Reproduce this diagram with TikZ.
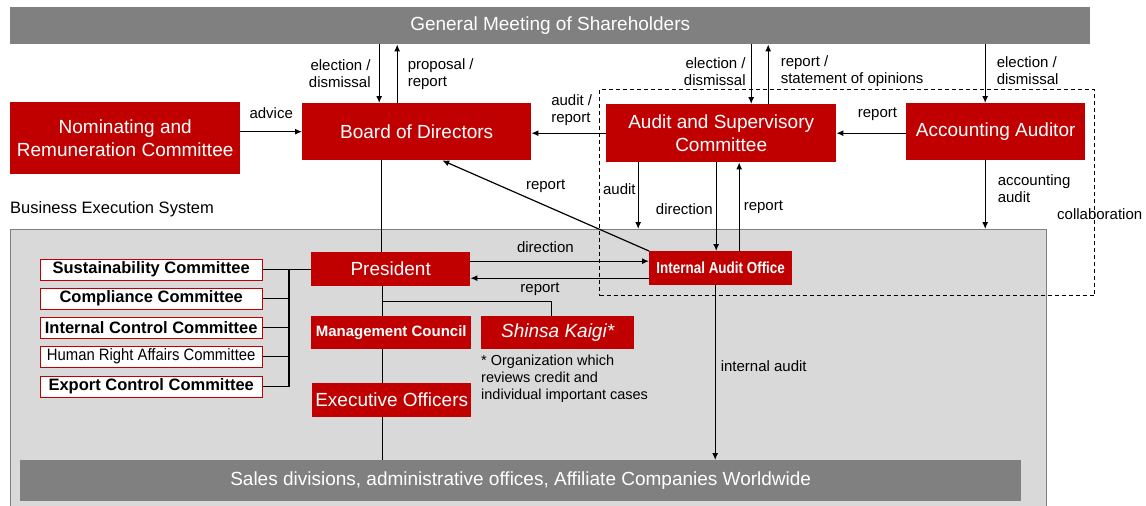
\documentclass[tikz,border=0pt]{standalone}
\usepackage{fontspec}
\setmainfont{Liberation Sans}
\newfontfamily\narrowfont[FakeStretch=0.9]{Liberation Sans}
\newfontfamily\officefont[FakeStretch=0.84]{Liberation Sans}
\usetikzlibrary{arrows.meta,positioning,backgrounds}
\definecolor{BoardRed}{RGB}{192,0,0}
\definecolor{BarGray}{RGB}{128,128,128}
\definecolor{AreaGray}{RGB}{217,217,217}

\begin{document}
\begin{tikzpicture}[x=1pt, y=-1pt,
    redbox/.style={fill=BoardRed, text=white, anchor=north west, inner sep=0pt,
        align=center, font=\fontsize{19}{22.5}\selectfont},
    graybar/.style={fill=BarGray, text=white, anchor=north west, inner sep=0pt,
        font=\fontsize{19}{22}\selectfont},
    committee/.style={draw=BoardRed, line width=1.2pt, fill=white, anchor=north west,
        inner sep=0pt, minimum width=222pt, minimum height=21pt,
        font=\fontsize{16.5}{18}\selectfont\bfseries},
    lbl/.style={font=\fontsize{15}{17}\selectfont, inner sep=0pt},
    link/.style={line width=1.2pt},
    arr/.style={link, -{Latex[length=7pt,width=6pt]}}]

    \useasboundingbox (0,0) rectangle (1146,506);

    \begin{scope}[on background layer]
        \node[fill=AreaGray, draw=BarGray, line width=1pt, anchor=north west, inner sep=0pt,
            minimum width=1036pt, minimum height=290pt] (BES) at (10,229) {};
    \end{scope}

    \node[graybar, minimum width=1080pt, minimum height=37pt] (GMS) at (10,7)
        {General Meeting of Shareholders};
    \node[redbox, minimum width=230pt, minimum height=72pt] (Nominating) at (10,102)
        {Nominating and\\Remuneration Committee};
    \node[redbox, minimum width=229pt, minimum height=57pt] (Board) at (302,103)
        {Board of Directors};
    \node[redbox, minimum width=230pt, minimum height=58pt] (ASC) at (606,104)
        {Audit and Supervisory\\Committee};
    \node[redbox, minimum width=179pt, minimum height=57pt] (AccAuditor) at (906,103)
        {Accounting Auditor};

    \node[draw, dashed, dash pattern=on 4pt off 3pt, line width=1pt, anchor=north west,
        inner sep=0pt, minimum width=495pt, minimum height=206pt] (Collab) at (599,89) {};
    \node[lbl, anchor=west] (CollabLabel) at (1057,214) {collaboration};

    \node[lbl, anchor=west, font=\fontsize{16.5}{18}\selectfont] (BESLabel) at (10,209)
        {Business Execution System};

    \node[redbox, minimum width=159pt, minimum height=34pt] (President) at (311,252)
        {President};
    \node[redbox, minimum width=143pt, minimum height=34pt,
        font=\fontsize{16}{18}\officefont\bfseries] (IAO) at (649,251) {Internal Audit Office};
    \node[redbox, minimum width=160pt, minimum height=33pt,
        font=\fontsize{15}{18}\selectfont\bfseries] (Management) at (311,316) {Management Council};
    \node[redbox, minimum width=153pt, minimum height=33pt,
        font=\fontsize{19}{22}\selectfont\itshape] (Shinsa) at (481,316) {Shinsa Kaigi*};
    \node[redbox, minimum width=159pt, minimum height=34pt] (Executive) at (312,383)
        {Executive Officers};
    \node[lbl, anchor=north west, align=left, font=\fontsize{14.5}{17}\selectfont] (Note)
        at (481,355) {* Organization which\\reviews credit and\\individual important cases};

    \node[committee] (Sustainability) at (39.6,258.6) {Sustainability Committee};
    \node[committee] (Compliance) at (39.6,287.6) {Compliance Committee};
    \node[committee] (InternalControl) at (39.6,316.6) {Internal Control Committee};
    \node[committee, font=\fontsize{16.5}{18}\narrowfont] (HumanRights) at (39.6,345.6)
        {Human Right Affairs Committee};
    \node[committee] (ExportControl) at (39.6,375.6) {Export Control Committee};
    \coordinate (Bus) at (289,272);

    \node[graybar, minimum width=1001pt, minimum height=41pt] (Sales) at (20,460)
        {Sales divisions, administrative offices, Affiliate Companies Worldwide};

    \draw[arr] ([xshift=-37.5pt]GMS.south -| Board.north) -- ([xshift=-37.5pt]Board.north)
        node[lbl, midway, left=8pt, align=right] {election /\\dismissal};
    \draw[arr] ([xshift=-19.5pt]Board.north) -- ([xshift=-19.5pt]GMS.south -| Board.north)
        node[lbl, midway, right=10pt, align=left] {proposal /\\report};
    \draw[arr] ([xshift=30pt]GMS.south -| ASC.north) -- ([xshift=30pt]ASC.north)
        node[lbl, pos=0.45, left=5pt, align=right] {election /\\dismissal};
    \draw[arr] ([xshift=47pt]ASC.north) -- ([xshift=47pt]GMS.south -| ASC.north)
        node[lbl, pos=0.55, right=12pt, align=left] {report /\\statement of opinions};
    \draw[arr] ([xshift=-10.5pt]GMS.south -| AccAuditor.north) -- ([xshift=-10.5pt]AccAuditor.north)
        node[lbl, pos=0.45, right=11pt, align=left] {election /\\dismissal};

    \draw[arr] (Nominating.east |- Board.west) -- (Board.west)
        node[lbl, midway, above=12pt] {advice};
    \draw[arr] (ASC.west) -- (Board.east |- ASC.west)
        node[lbl, pos=0.46, above=7pt, align=left] {audit /\\report};
    \draw[arr] (AccAuditor.west |- ASC.east) -- (ASC.east)
        node[lbl, pos=0.41, above=12pt] {report};
    \draw[arr] (IAO.north west) -- ([xshift=25.5pt]Board.south)
        node[lbl, midway, above=12pt] {report};

    \draw[link] ([xshift=-35.5pt]Board.south) -- ([xshift=-35.5pt]Board.south |- President.north);
    \draw[arr] ([yshift=8pt]President.east) -- ([yshift=8pt]President.east -| IAO.west)
        node[lbl, pos=0.42, above=8pt] {direction};
    \draw[arr] ([yshift=-9pt]President.east -| IAO.west) -- ([yshift=-9pt]President.east)
        node[lbl, pos=0.61, below=4pt] {report};

    \draw[link] ([xshift=-8.5pt]President.south) -- ([xshift=-8.5pt]President.south |- Management.north);
    \draw[link] ([xshift=-8.5pt,yshift=-15pt]President.south) -| ([xshift=-6.5pt]Shinsa.north);
    \draw[link] ([xshift=-9pt]Management.south) -- ([xshift=-9pt]Management.south |- Executive.north);
    \draw[link] ([xshift=-9.5pt]Executive.south) -- ([xshift=-9.5pt]Executive.south |- Sales.north);

    \foreach \c in {Sustainability, Compliance, InternalControl, HumanRights, ExportControl}
        \draw[link] (\c.east) -- (\c.east -| Bus);
    \draw[link] (Sustainability.east -| Bus) -- (ExportControl.east -| Bus);
    \draw[link] (Sustainability.east -| Bus) -- (President.west |- Sustainability.east);

    \draw[arr] ([xshift=-83pt]ASC.south) -- ([xshift=-83pt]ASC.south |- BES.north)
        node[lbl, pos=0.4, left=2pt] {audit};
    \draw[arr] ([xshift=-5pt]ASC.south) -- ([xshift=-5pt]ASC.south |- IAO.north)
        node[lbl, pos=0.53, left=3pt] {direction};
    \draw[arr] ([xshift=18pt]ASC.south |- IAO.north) -- ([xshift=18pt]ASC.south)
        node[lbl, pos=0.49, right=4pt] {report};
    \draw[arr] ([xshift=-10.5pt]AccAuditor.south) -- ([xshift=-10.5pt]AccAuditor.south |- BES.north)
        node[lbl, pos=0.41, right=12pt, align=left] {accounting\\audit};
    \draw[arr] ([xshift=-5.5pt]IAO.south) -- ([xshift=-5.5pt]IAO.south |- Sales.north)
        node[lbl, pos=0.46, right=5pt] {internal audit};

\end{tikzpicture}
\end{document}
